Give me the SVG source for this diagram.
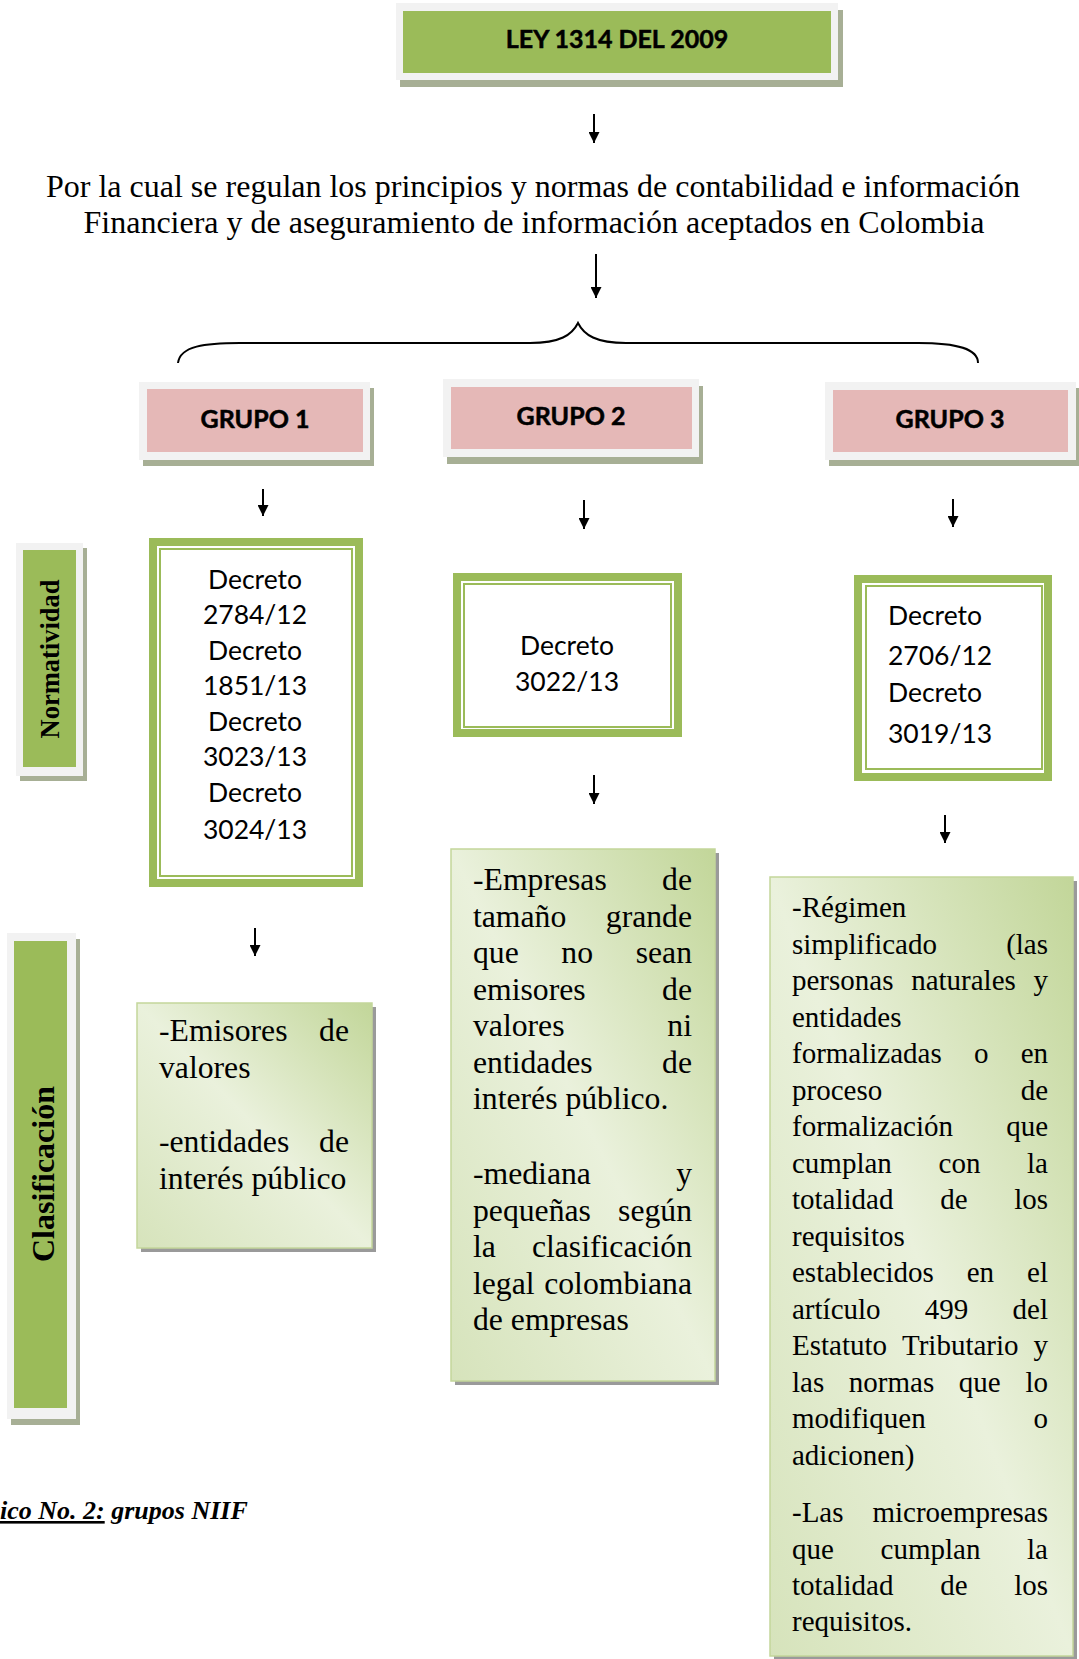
<svg xmlns="http://www.w3.org/2000/svg" width="1079" height="1659" viewBox="0 0 1079 1659">
<style>
.panel{fill:#f2f2f2}
.shadow{fill:#a7af95}
.green{fill:#9bbb59}
.pink{fill:#e5b8b7}
.hd{font-family:Lato,"Liberation Sans",sans-serif;font-weight:bold;font-size:25px;fill:#000;stroke:#000;stroke-width:0.5;text-anchor:middle}
.dec{font-family:Lato,"Liberation Sans",sans-serif;font-size:26.5px;fill:#000}
.outer{fill:#fff;stroke:#9bbb59;stroke-width:8}
.thin{fill:none;stroke:#9bbb59;stroke-width:2}
.side{font-family:"Liberation Serif",serif;font-weight:bold;fill:#000;text-anchor:middle}
.cbox{fill:url(#grad);stroke:#c3d69b;stroke-width:1.5}
.cshadow{fill:#9a9a9a}
.t{font-family:"Liberation Serif",serif;font-size:29px;fill:#000}
.tb{font-family:"Liberation Serif",serif;font-size:31.7px;fill:#000}
.desc{font-family:"Liberation Serif",serif;font-size:32px;fill:#000;text-anchor:middle}
.conn{stroke:#000;stroke-width:2;fill:none}
</style>
<defs>
<linearGradient id="grad" x1="1" y1="0" x2="0" y2="1">
<stop offset="0" stop-color="#c2d699"/>
<stop offset="0.5" stop-color="#eaf1dc"/>
<stop offset="1" stop-color="#d6e3bb"/>
</linearGradient>
<marker id="ah" markerUnits="userSpaceOnUse" markerWidth="12" markerHeight="11" refX="11" refY="5.5" orient="auto">
<path d="M0,0 L11,5.5 L0,11 z" fill="#000"/>
</marker>
</defs>

<g id="ley">
<rect class="shadow" x="400" y="10" width="443" height="77"/>
<rect class="panel" x="396" y="3" width="442" height="77"/>
<rect class="green" x="403" y="11" width="428" height="62"/>
<text class="hd" x="617" y="48">LEY 1314 DEL 2009</text>
</g>

<g id="descripcion">
<text class="desc" x="533" y="197">Por la cual se regulan los principios y normas de contabilidad e información</text>
<text class="desc" x="534" y="233">Financiera y de aseguramiento de información aceptados en Colombia</text>
</g>

<g id="grupo1">
<rect class="shadow" x="143" y="388" width="231" height="78"/>
<rect class="panel" x="139" y="382" width="231" height="78"/>
<rect class="pink" x="147" y="389" width="216" height="63"/>
<text class="hd" x="255" y="428">GRUPO 1</text>
</g>
<g id="grupo2">
<rect class="shadow" x="447" y="386" width="256" height="78"/>
<rect class="panel" x="443" y="379" width="256" height="78"/>
<rect class="pink" x="451" y="387" width="241" height="62"/>
<text class="hd" x="571" y="425">GRUPO 2</text>
</g>
<g id="grupo3">
<rect class="shadow" x="829" y="388" width="251" height="78"/>
<rect class="panel" x="825" y="382" width="251" height="78"/>
<rect class="pink" x="833" y="390" width="235" height="62"/>
<text class="hd" x="950" y="428">GRUPO 3</text>
</g>

<g id="normatividad">
<rect class="shadow" x="20" y="548" width="67" height="233"/>
<rect class="panel" x="16" y="543" width="67" height="233"/>
<rect class="green" x="23" y="550" width="53" height="217"/>
<text class="side" font-size="26.5" transform="translate(59,659) rotate(-90)">Normatividad</text>
</g>

<g id="clasificacion">
<rect class="shadow" x="11" y="939" width="69" height="486"/>
<rect class="panel" x="7" y="933" width="69" height="486"/>
<rect class="green" x="14" y="941" width="53" height="467"/>
<text class="side" font-size="32" transform="translate(54,1174) rotate(-90)">Clasificación</text>
</g>

<g id="decreto1">
<rect class="outer" x="153" y="542" width="206" height="341"/>
<rect class="thin" x="160" y="549" width="192" height="327"/>
<text class="dec" text-anchor="middle" x="255" y="589">Decreto</text>
<text class="dec" text-anchor="middle" x="255" y="624">2784/12</text>
<text class="dec" text-anchor="middle" x="255" y="660">Decreto</text>
<text class="dec" text-anchor="middle" x="255" y="695">1851/13</text>
<text class="dec" text-anchor="middle" x="255" y="731">Decreto</text>
<text class="dec" text-anchor="middle" x="255" y="766">3023/13</text>
<text class="dec" text-anchor="middle" x="255" y="802">Decreto</text>
<text class="dec" text-anchor="middle" x="255" y="839">3024/13</text>
</g>

<g id="decreto2">
<rect class="outer" x="457" y="577" width="221" height="156"/>
<rect class="thin" x="464" y="584" width="207" height="143"/>
<text class="dec" text-anchor="middle" x="567" y="655">Decreto</text>
<text class="dec" text-anchor="middle" x="567" y="691">3022/13</text>
</g>

<g id="decreto3">
<rect class="outer" x="858" y="579" width="190" height="198"/>
<rect class="thin" x="866" y="586" width="176" height="183"/>
<text class="dec" x="888" y="625">Decreto</text>
<text class="dec" x="888" y="665">2706/12</text>
<text class="dec" x="888" y="702">Decreto</text>
<text class="dec" x="888" y="743">3019/13</text>
</g>

<g id="clasif1">
<rect class="cshadow" x="141" y="1007" width="235" height="245"/>
<rect class="cbox" x="137" y="1003" width="235" height="245"/>
<text class="tb" y="1041"><tspan x="159">-Emisores</tspan><tspan x="349" text-anchor="end">de</tspan></text>
<text class="tb" x="159" y="1078">valores</text>
<text class="tb" y="1152"><tspan x="159">-entidades</tspan><tspan x="349" text-anchor="end">de</tspan></text>
<text class="tb" x="159" y="1189">interés público</text>
</g>

<g id="clasif2">
<rect class="cshadow" x="455" y="853" width="264" height="532"/>
<rect class="cbox" x="451" y="849" width="264" height="532"/>
<text class="tb" y="890"><tspan x="473">-Empresas</tspan><tspan x="692" text-anchor="end">de</tspan></text>
<text class="tb" y="926.5"><tspan x="473">tamaño</tspan><tspan x="692" text-anchor="end">grande</tspan></text>
<text class="tb" y="963"><tspan x="473">que</tspan><tspan x="577.2" text-anchor="middle">no</tspan><tspan x="692" text-anchor="end">sean</tspan></text>
<text class="tb" y="999.5"><tspan x="473">emisores</tspan><tspan x="692" text-anchor="end">de</tspan></text>
<text class="tb" y="1036"><tspan x="473">valores</tspan><tspan x="692" text-anchor="end">ni</tspan></text>
<text class="tb" y="1072.5"><tspan x="473">entidades</tspan><tspan x="692" text-anchor="end">de</tspan></text>
<text class="tb" x="473" y="1109">interés público.</text>
<text class="tb" y="1184"><tspan x="473">-mediana</tspan><tspan x="692" text-anchor="end">y</tspan></text>
<text class="tb" y="1220.5"><tspan x="473">pequeñas</tspan><tspan x="692" text-anchor="end">según</tspan></text>
<text class="tb" y="1257"><tspan x="473">la</tspan><tspan x="692" text-anchor="end">clasificación</tspan></text>
<text class="tb" y="1293.5"><tspan x="473">legal</tspan><tspan x="692" text-anchor="end">colombiana</tspan></text>
<text class="tb" x="473" y="1330">de empresas</text>
</g>

<g id="clasif3">
<rect class="cshadow" x="774" y="881" width="303" height="780"/>
<rect class="cbox" x="770" y="877" width="303" height="779"/>
<text class="t" x="792" y="917">-Régimen</text>
<text class="t" y="953.5"><tspan x="792">simplificado</tspan><tspan x="1048" text-anchor="end">(las</tspan></text>
<text class="t" y="990"><tspan x="792">personas</tspan><tspan x="963.5" text-anchor="middle">naturales</tspan><tspan x="1048" text-anchor="end">y</tspan></text>
<text class="t" x="792" y="1026.5">entidades</text>
<text class="t" y="1063"><tspan x="792">formalizadas</tspan><tspan x="981.2" text-anchor="middle">o</tspan><tspan x="1048" text-anchor="end">en</tspan></text>
<text class="t" y="1099.5"><tspan x="792">proceso</tspan><tspan x="1048" text-anchor="end">de</tspan></text>
<text class="t" y="1136"><tspan x="792">formalización</tspan><tspan x="1048" text-anchor="end">que</tspan></text>
<text class="t" y="1172.5"><tspan x="792">cumplan</tspan><tspan x="959.5" text-anchor="middle">con</tspan><tspan x="1048" text-anchor="end">la</tspan></text>
<text class="t" y="1209"><tspan x="792">totalidad</tspan><tspan x="953.9" text-anchor="middle">de</tspan><tspan x="1048" text-anchor="end">los</tspan></text>
<text class="t" x="792" y="1245.5">requisitos</text>
<text class="t" y="1282"><tspan x="792">establecidos</tspan><tspan x="980.4" text-anchor="middle">en</tspan><tspan x="1048" text-anchor="end">el</tspan></text>
<text class="t" y="1318.5"><tspan x="792">artículo</tspan><tspan x="946.6" text-anchor="middle">499</tspan><tspan x="1048" text-anchor="end">del</tspan></text>
<text class="t" y="1355"><tspan x="792">Estatuto</tspan><tspan x="960.3" text-anchor="middle">Tributario</tspan><tspan x="1048" text-anchor="end">y</tspan></text>
<text class="t" y="1391.5"><tspan x="792">las</tspan><tspan x="891.5" text-anchor="middle">normas</tspan><tspan x="979.8" text-anchor="middle">que</tspan><tspan x="1048" text-anchor="end">lo</tspan></text>
<text class="t" y="1428"><tspan x="792">modifiquen</tspan><tspan x="1048" text-anchor="end">o</tspan></text>
<text class="t" x="792" y="1464.5">adicionen)</text>
<text class="t" y="1522"><tspan x="792">-Las</tspan><tspan x="1048" text-anchor="end">microempresas</tspan></text>
<text class="t" y="1558.5"><tspan x="792">que</tspan><tspan x="930.5" text-anchor="middle">cumplan</tspan><tspan x="1048" text-anchor="end">la</tspan></text>
<text class="t" y="1595"><tspan x="792">totalidad</tspan><tspan x="953.9" text-anchor="middle">de</tspan><tspan x="1048" text-anchor="end">los</tspan></text>
<text class="t" x="792" y="1631">requisitos.</text>
</g>

<g id="caption">
<text font-family="'Liberation Serif',serif" font-weight="bold" font-style="italic" font-size="26" x="0" y="1519"><tspan text-decoration="underline">ico No. 2:</tspan> grupos NIIF</text>
</g>

<g id="connectors">
<line class="conn" x1="594" y1="114" x2="594" y2="143" marker-end="url(#ah)"/>
<line class="conn" x1="596" y1="254" x2="596" y2="298" marker-end="url(#ah)"/>
<path class="conn" d="M178,363 C180,346 205,343 240,343 L530,343 C560,343 572,335 578,323 C584,335 596,343 626,343 L918,343 C958,343 978,349 978,363"/>
<line class="conn" x1="263" y1="489" x2="263" y2="516" marker-end="url(#ah)"/>
<line class="conn" x1="584" y1="500" x2="584" y2="529" marker-end="url(#ah)"/>
<line class="conn" x1="953" y1="499" x2="953" y2="527" marker-end="url(#ah)"/>
<line class="conn" x1="255" y1="928" x2="255" y2="956" marker-end="url(#ah)"/>
<line class="conn" x1="594" y1="775" x2="594" y2="804" marker-end="url(#ah)"/>
<line class="conn" x1="945" y1="815" x2="945" y2="843" marker-end="url(#ah)"/>
</g>
</svg>
